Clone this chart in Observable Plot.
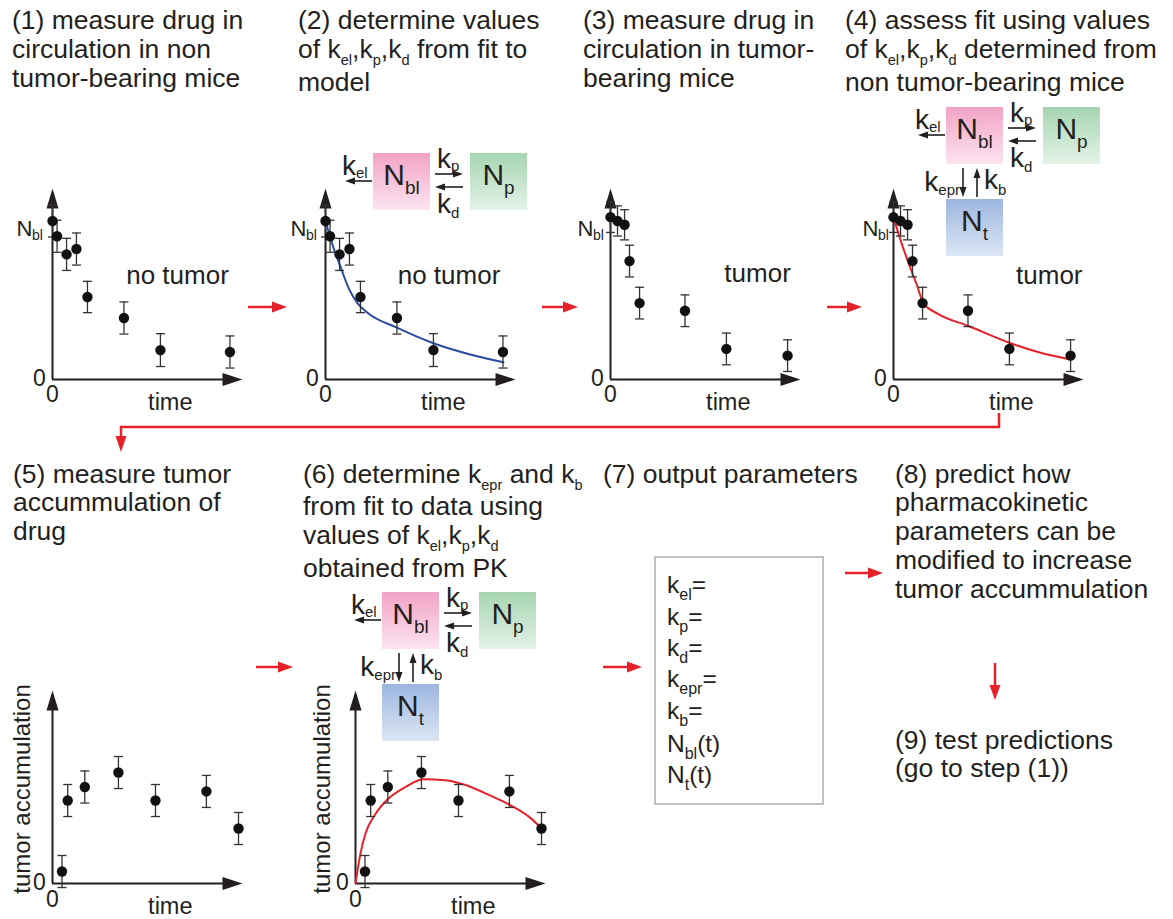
<!DOCTYPE html>
<html><head><meta charset="utf-8">
<script src="https://cdn.jsdelivr.net/npm/d3@7"></script>
<script src="https://cdn.jsdelivr.net/npm/@observablehq/plot@0.6"></script>
<style>
body{margin:0;background:#fff;}
#fig{position:relative;width:1173px;height:919px;overflow:hidden;font-family:"Liberation Sans",Arial,Helvetica,sans-serif;color:#231f20;background:#fff;}
.title{position:absolute;font-size:26.5px;line-height:28.8px;white-space:nowrap;}
.s{font-size:0.55em;position:relative;top:0.5em;}
</style>
</head><body>
<div id="fig"></div>
<script>
// ---------------- data ----------------
// circulating drug, non tumor-bearing mice (panels 1 & 2)
const pkTimeNoTumor = [0, 0.24, 0.74, 1.26, 1.84, 3.76, 5.68, 9.34];
const pkNoTumor     = [0.83, 0.75, 0.655, 0.683, 0.432, 0.322, 0.154, 0.144];
const pkNoTumorErr  = [0.084, 0.084, 0.084, 0.084, 0.082, 0.084, 0.086, 0.084];
// fitted model, non tumor-bearing (panel 2, blue)
const fitNoTumorTime = [0, 0.42, 0.79, 1.21, 1.68, 2.21, 3.79, 5.68, 7.47, 9.37];
const fitNoTumor     = [0.83, 0.69, 0.59, 0.48, 0.40, 0.35, 0.27, 0.19, 0.135, 0.09];
// circulating drug, tumor-bearing mice (panels 3 & 4)
const pkTimeTumor = [0, 0.37, 0.74, 1.0, 1.53, 3.92, 6.1, 9.32];
const pkTumor     = [0.85, 0.83, 0.81, 0.62, 0.40, 0.36, 0.16, 0.125];
const pkTumorErr  = [0.08, 0.079, 0.079, 0.083, 0.083, 0.083, 0.083, 0.083];
// model prediction with non tumor parameters (panel 4, red)
const fitTumorTime = [0, 0.37, 0.79, 1.21, 1.58, 2.32, 3.95, 6.16, 7.74, 9.32];
const fitTumor     = [0.85, 0.73, 0.61, 0.50, 0.40, 0.345, 0.28, 0.19, 0.14, 0.105];
// tumor accumulation (panels 5 & 6)
const accTime = [0.5, 0.8, 1.7, 3.47, 5.42, 8.1, 9.79];
const acc     = [0.062, 0.43, 0.50, 0.575, 0.43, 0.477, 0.285];
const accErr  = [0.083, 0.083, 0.083, 0.083, 0.083, 0.083, 0.083];
// fitted tumor accumulation (panel 6, red)
const fitAccTime = [0, 0.26, 0.53, 1.05, 1.68, 2.63, 3.58, 4.74, 5.79, 7.1, 8.16, 9.2, 9.79];
const fitAcc     = [0, 0.155, 0.26, 0.36, 0.435, 0.50, 0.54, 0.535, 0.51, 0.455, 0.405, 0.34, 0.285];
// text
const axisTimeLabel = "time";
const axisAccLabel = "tumor accumulation";
const outputParams = [["k","el","="],["k","p","="],["k","d","="],["k","epr","="],["k","b","="],["N","bl","(t)"],["N","t","(t)"]];

// ---------------- styles ----------------
const FONT = '"Liberation Sans", Arial, Helvetica, sans-serif';
const INK = "#231f20";
const RED = "#e6212a";
const BLUE = "#2b4b9e";
const fig = document.getElementById("fig");

const headRight = {draw(c){c.moveTo(0,0);c.lineTo(-20,-6.5);c.lineTo(-20,6.5);c.closePath();}};
const headUp = {draw(c){c.moveTo(0,0);c.lineTo(-6,20);c.lineTo(6,20);c.closePath();}};
const cap = {draw(c){c.moveTo(-4.5,0);c.lineTo(4.5,0);}};

const table = (t, v, e) => t.map((d, i) => ({t: d, v: v[i], lo: e ? v[i] - e[i] : null, hi: e ? v[i] + e[i] : null}));

function axesMarks(){
  return [
    Plot.ruleY([0], {x1: 0, x2: 9.4, stroke: INK, strokeWidth: 2}),
    Plot.ruleX([0], {y1: 0, y2: 0.95, stroke: INK, strokeWidth: 2}),
    Plot.dot([{t: 10, v: 0}], {x: "t", y: "v", symbol: headRight, fill: INK, stroke: "none"}),
    Plot.dot([{t: 0, v: 1}], {x: "t", y: "v", symbol: headUp, fill: INK, stroke: "none"})
  ];
}
function dataMarks(rows){
  return [
    Plot.ruleX(rows, {x: "t", y1: "lo", y2: "hi", stroke: "#333", strokeWidth: 1.3}),
    Plot.dot(rows, {x: "t", y: "lo", symbol: cap, fill: "none", stroke: "#333", strokeWidth: 1.3}),
    Plot.dot(rows, {x: "t", y: "hi", symbol: cap, fill: "none", stroke: "#333", strokeWidth: 1.3}),
    Plot.dot(rows, {x: "t", y: "v", r: 5.2, fill: "#111", stroke: "none"})
  ];
}
function zeroMarks(dxY, dyX){
  return [
    Plot.text(["0"], {x: 0, y: 0, text: d => d, dx: -13, dy: -1, fontSize: 23}),
    Plot.text(["0"], {x: 0, y: 0, text: d => d, dy: dyX, fontSize: 23}),
    Plot.text([axisTimeLabel], {x: 6.2, y: 0, text: d => d, dy: 23, fontSize: 23.5})
  ];
}
function nblLabel(dx){
  return [
    Plot.text(["N"], {x: 0, y: 0.79, text: d => d, dx, fontSize: 22, textAnchor: "start"}),
    Plot.text(["bl"], {x: 0, y: 0.79, text: d => d, dx: dx + 15.5, dy: 7, fontSize: 14, textAnchor: "start"})
  ];
}
function panel(ox, oy, ylen, marks){
  const ml = 70, mr = 30, mt = 20, mb = 45, xlen = 190;
  const svg = Plot.plot({
    width: ml + xlen + mr, height: mt + ylen + mb,
    marginLeft: ml, marginRight: mr, marginTop: mt, marginBottom: mb,
    x: {domain: [0, 10], range: [ml, ml + xlen], axis: null},
    y: {domain: [0, 1], range: [mt + ylen, mt], axis: null},
    style: {background: "transparent", overflow: "visible", fontFamily: FONT, color: INK},
    marks
  });
  svg.style.position = "absolute";
  svg.style.left = (ox - ml) + "px";
  svg.style.top = (oy - ylen - mt) + "px";
  svg.style.maxWidth = "none";
  fig.appendChild(svg);
}

// ---------------- decoration layer (diagrams, arrows, boxes) ----------------
function arrow(x1, y1, x2, y2, color, sw, hl, hw){
  const dx = x2 - x1, dy = y2 - y1, L = Math.hypot(dx, dy), ux = dx / L, uy = dy / L;
  const bx = x2 - ux * hl, by = y2 - uy * hl;
  return `<line x1="${x1}" y1="${y1}" x2="${bx + ux}" y2="${by + uy}" stroke="${color}" stroke-width="${sw}"/>` +
    `<polygon points="${x2},${y2} ${bx - uy * hw / 2},${by + ux * hw / 2} ${bx + uy * hw / 2},${by - ux * hw / 2}" fill="${color}"/>`;
}
const sub = (m, s, fs, sfs, dy, after) => `${m}<tspan font-size="${sfs}" dy="${dy}">${s}</tspan>` + (after ? `<tspan dy="${-dy}">${after}</tspan>` : "");
function box(x, y, grad, m, s){
  return `<rect x="${x}" y="${y}" width="57" height="57" fill="url(#${grad})"/>` +
    `<text x="${x + 28.5}" y="${y + 32}" text-anchor="middle" font-size="30">${sub(m, s, 30, 19, 9)}</text>`;
}
function diagram(bx, by, tumor){
  let o = "";
  o += box(bx, by, "gPink", "N", "bl");
  o += box(bx + 97, by, "gGreen", "N", "p");
  o += `<text x="${bx - 31}" y="${by + 22}" font-size="28">${sub("k", "el", 28, 15, 3)}</text>`;
  o += arrow(bx - 1, by + 28, bx - 28, by + 28, INK, 1.6, 10, 7);
  o += `<text x="${bx + 64}" y="${by + 15}" font-size="28">${sub("k", "p", 28, 15, 3)}</text>`;
  o += arrow(bx + 62, by + 21, bx + 90, by + 21, INK, 1.6, 10, 7);
  o += arrow(bx + 90, by + 34, bx + 62, by + 34, INK, 1.6, 10, 7);
  o += `<text x="${bx + 64}" y="${by + 60}" font-size="28">${sub("k", "d", 28, 15, 5)}</text>`;
  if (tumor){
    o += box(bx, by + 92, "gBlue", "N", "t");
    o += arrow(bx + 17, by + 61, bx + 17, by + 90, INK, 1.6, 10, 7);
    o += arrow(bx + 31, by + 90, bx + 31, by + 61, INK, 1.6, 10, 7);
    o += `<text x="${bx + 14}" y="${by + 84}" font-size="28" text-anchor="end">${sub("k", "epr", 28, 15, 4)}</text>`;
    o += `<text x="${bx + 38}" y="${by + 82}" font-size="28">${sub("k", "b", 28, 15, 6)}</text>`;
  }
  return o;
}
let deco = `<svg width="1173" height="919" style="position:absolute;left:0;top:0" font-family='${FONT}' fill="${INK}">
<defs>
<linearGradient id="gPink" x1="0" y1="0" x2="0" y2="1"><stop offset="0" stop-color="#f2a3c5"/><stop offset="1" stop-color="#fce4ef"/></linearGradient>
<linearGradient id="gGreen" x1="0" y1="0" x2="0" y2="1"><stop offset="0" stop-color="#a6d5b1"/><stop offset="1" stop-color="#e3f2e7"/></linearGradient>
<linearGradient id="gBlue" x1="0" y1="0" x2="0" y2="1"><stop offset="0" stop-color="#9db6df"/><stop offset="1" stop-color="#dce6f4"/></linearGradient>
</defs>`;
deco += diagram(373, 153, false);
deco += diagram(946, 107, true);
deco += diagram(382, 592, true);
// red flow arrows
deco += arrow(248, 307, 287, 307, RED, 2.5, 15, 11);
deco += arrow(542, 307, 578, 307, RED, 2.5, 15, 11);
deco += arrow(827, 307, 862, 307, RED, 2.5, 15, 11);
deco += arrow(256, 667, 293, 667, RED, 2.5, 15, 11);
deco += arrow(603, 667, 642, 667, RED, 2.5, 15, 11);
deco += arrow(845, 573, 883, 573, RED, 2.5, 15, 11);
deco += arrow(995, 663, 995, 700, RED, 2.5, 15, 11);
deco += `<polyline points="999,413 999,427 121,427 121,438" fill="none" stroke="${RED}" stroke-width="2.5"/>`;
deco += arrow(121, 436, 121, 452, RED, 2.5, 16, 11);
// output parameter box
deco += `<rect x="655" y="557" width="168" height="247" fill="none" stroke="#b3b3b3" stroke-width="1.6"/>`;
const baselines = [593, 625, 656, 687, 719, 752, 783];
outputParams.forEach((p, i) => {
  deco += `<text x="667" y="${baselines[i]}" font-size="24.5">${sub(p[0], p[1], 24.5, 16, 7, p[2])}</text>`;
});
deco += `</svg>`;
fig.insertAdjacentHTML("beforeend", deco);

// ---------------- titles ----------------
const S = t => `<span class="s">${t}</span>`;
const titles = [
  [12, 6, "(1) measure drug in<br>circulation in non<br>tumor-bearing mice"],
  [298, 6, `(2) determine values<br>of k${S("el")},k${S("p")},k${S("d")} from fit to<br>model`],
  [583, 6, "(3) measure drug in<br>circulation in tumor-<br>bearing mice"],
  [845, 6, `(4) assess fit using values<br>of k${S("el")},k${S("p")},k${S("d")} determined from<br>non tumor-bearing mice`],
  [13, 459.5, "(5) measure tumor<br>accummulation of<br>drug"],
  [303, 459.5, `(6) determine k${S("epr")} and k${S("b")}<br>from fit to data using<br>values of k${S("el")},k${S("p")},k${S("d")}<br>obtained from PK`],
  [603, 459.5, "(7) output parameters"],
  [895, 459.5, "(8) predict how<br>pharmacokinetic<br>parameters can be<br>modified to increase<br>tumor accummulation"],
  [895, 725.5, "(9) test predictions<br>(go to step (1))"]
];
titles.forEach(([x, y, h]) => {
  const d = document.createElement("div");
  d.className = "title"; d.style.left = x + "px"; d.style.top = y + "px"; d.innerHTML = h;
  fig.appendChild(d);
});

// ---------------- panels ----------------
const noTumorRows = table(pkTimeNoTumor, pkNoTumor, pkNoTumorErr);
const tumorRows = table(pkTimeTumor, pkTumor, pkTumorErr);
const accRows = table(accTime, acc, accErr);
const fitNT = table(fitNoTumorTime, fitNoTumor);
const fitT = table(fitTumorTime, fitTumor);
const fitA = table(fitAccTime, fitAcc);

const note = (txt, x, y) => Plot.text([txt], {x, y, text: d => d, fontSize: 26});

panel(52, 379, 191, [...axesMarks(), ...dataMarks(noTumorRows), ...zeroMarks(-13, 15), ...nblLabel(-36), note("no tumor", 6.58, 0.545)]);
panel(325, 379, 191, [...axesMarks(), Plot.line(fitNT, {x: "t", y: "v", curve: "monotone-x", stroke: BLUE, strokeWidth: 2}), ...dataMarks(noTumorRows), ...zeroMarks(-13, 15), ...nblLabel(-35), note("no tumor", 6.5, 0.545)]);
panel(610, 379, 191, [...axesMarks(), ...dataMarks(tumorRows), ...zeroMarks(-13, 15), ...nblLabel(-33), note("tumor", 7.74, 0.555)]);
panel(893, 379, 191, [...axesMarks(), Plot.line(fitT, {x: "t", y: "v", curve: "monotone-x", stroke: RED, strokeWidth: 2}), ...dataMarks(tumorRows), ...zeroMarks(-13, 15), ...nblLabel(-31), note("tumor", 8.2, 0.545)]);
const accLabel = dx => Plot.text([axisAccLabel], {x: 0, y: 0.49, text: d => d, dx, rotate: -90, fontSize: 24});
panel(52, 883, 193, [...axesMarks(), ...dataMarks(accRows), ...zeroMarks(-12, 16), accLabel(-30)]);
panel(355, 883, 193, [...axesMarks(), Plot.line(fitA, {x: "t", y: "v", curve: "monotone-x", stroke: RED, strokeWidth: 2}), ...dataMarks(accRows), ...zeroMarks(-12, 16), accLabel(-33)]);
</script>
</body></html>
